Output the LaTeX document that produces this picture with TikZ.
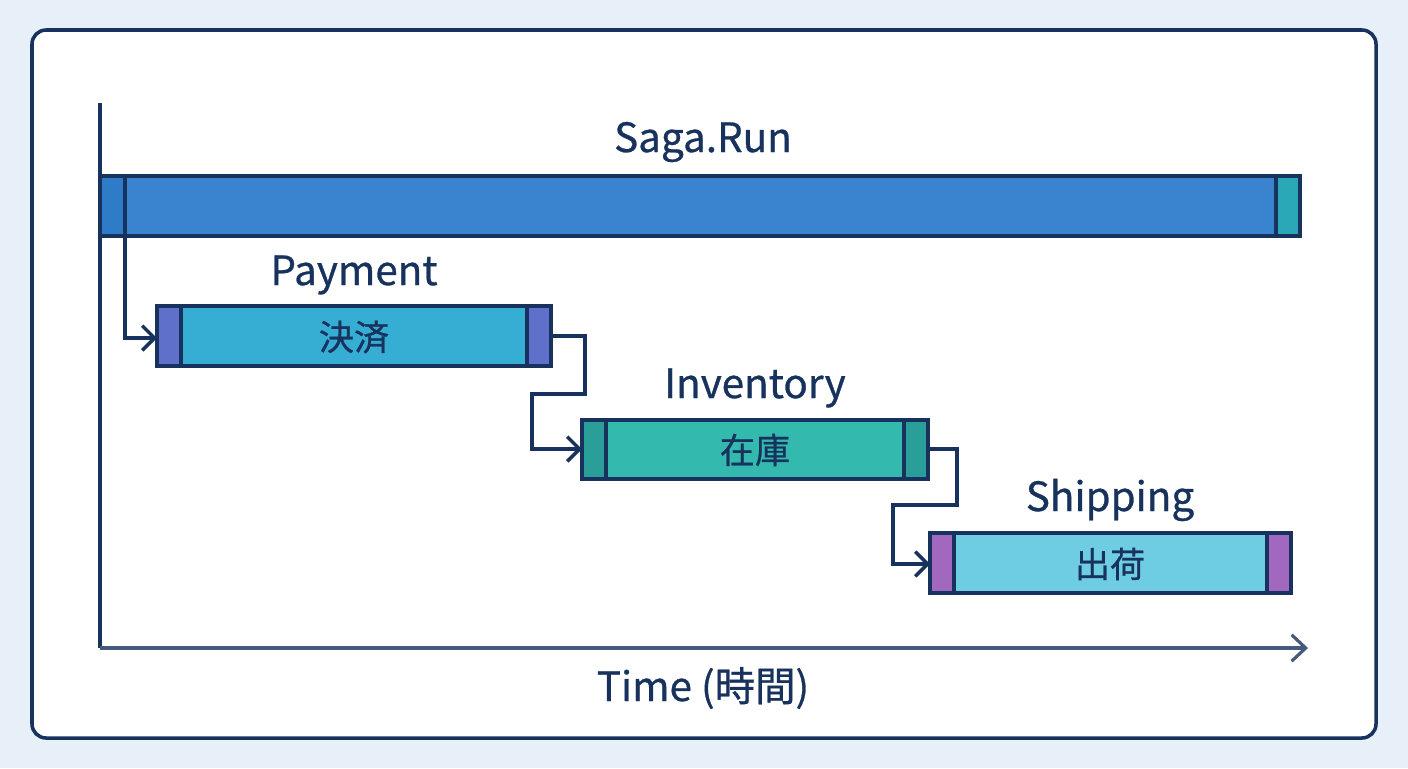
\documentclass[tikz,border=0pt]{standalone}
\usepackage{fontspec}
\setmainfont{Noto Sans CJK JP}
\newfontfamily\lblf{Noto Sans CJK JP}[FakeBold=0.7]
\usetikzlibrary{arrows.meta}
\definecolor{navy}{HTML}{17325C}
\definecolor{bgc}{HTML}{E7EFF8}
\definecolor{sagaf}{HTML}{3A84CF}
\definecolor{sagae}{HTML}{2E7CC8}
\definecolor{sagat}{HTML}{2BA8B8}
\definecolor{payf}{HTML}{36ADD2}
\definecolor{paye}{HTML}{5F70CB}
\definecolor{invf}{HTML}{34B9AF}
\definecolor{inve}{HTML}{2A9E98}
\definecolor{shipf}{HTML}{6ECDE3}
\definecolor{shipe}{HTML}{A267BE}
\begin{document}
\begin{tikzpicture}[x=0.02cm,y=-0.02cm,
  ln/.style={draw=navy,line width=2.1pt},
  conn/.style={draw=navy,line width=2pt,-{Straight Barb[length=7pt,width=14pt,line width=2pt]}},
  lbl/.style={text=navy,font=\lblf\fontsize{23}{27}\selectfont},
  inl/.style={text=navy,font=\lblf\fontsize{20}{24}\selectfont}]
\useasboundingbox (0,0) rectangle (1408,768);
\fill[bgc] (0,0) rectangle (1408,768);
\draw[fill=white,draw=navy,line width=2pt,rounded corners=8pt] (32,30) rectangle (1376,738);
% axes
\draw[navy,line width=1.8pt] (100,103) -- (100,648);
\coordinate (ax0) at (100,648);
\coordinate (ax1) at (1308,648);
\draw[line width=1.8pt,draw=navy!80,-{Straight Barb[length=8pt,width=15pt,line width=1.8pt]}] (ax0) -- (ax1);
\node[lbl] (time) at (703,688) {Time (時間)};
% Saga bar
\fill[sagaf] (100,176) rectangle (1300,236);
\fill[sagae] (100,176) rectangle (125,236);
\fill[sagat] (1276,176) rectangle (1300,236);
\draw[ln] (125,176) -- (125,236) (1276,176) -- (1276,236);
\draw[ln] (100,176) rectangle (1300,236);
\node[lbl] (saga) at (703,142) {Saga.Run};
\coordinate (sagaout) at (125,236);
% Payment
\fill[payf] (157,306) rectangle (551,366);
\fill[paye] (157,306) rectangle (181,366);
\fill[paye] (527,306) rectangle (551,366);
\draw[ln] (181,306) -- (181,366) (527,306) -- (527,366);
\draw[ln] (157,306) rectangle (551,366);
\node[inl] (pay) at (354,337) {決済};
\node[lbl] (payl) at (354,275) {Payment};
\coordinate (payin) at (157,338);
\coordinate (payout) at (551,336);
% Inventory
\fill[invf] (582,420) rectangle (928,479);
\fill[inve] (582,420) rectangle (606,479);
\fill[inve] (904,420) rectangle (928,479);
\draw[ln] (606,420) -- (606,479) (904,420) -- (904,479);
\draw[ln] (582,420) rectangle (928,479);
\node[inl] (inv) at (755,450) {在庫};
\node[lbl] (invl) at (755,388) {Inventory};
\coordinate (invin) at (582,449);
\coordinate (invout) at (928,449);
% Shipping
\fill[shipf] (930,533) rectangle (1291,593);
\fill[shipe] (930,533) rectangle (954,593);
\fill[shipe] (1267,533) rectangle (1291,593);
\draw[ln] (954,533) -- (954,593) (1267,533) -- (1267,593);
\draw[ln] (930,533) rectangle (1291,593);
\node[inl] (ship) at (1110,564) {出荷};
\node[lbl] (shipl) at (1110,500) {Shipping};
\coordinate (shipin) at (930,564);
% connectors
\draw[conn] (sagaout) |- (payin);
\draw[conn] (payout) -- (585,336) -- (585,394) -- (532,394) |- (invin);
\draw[conn] (invout) -- (957,449) -- (957,505) -- (893,505) |- (shipin);
\end{tikzpicture}
\end{document}
